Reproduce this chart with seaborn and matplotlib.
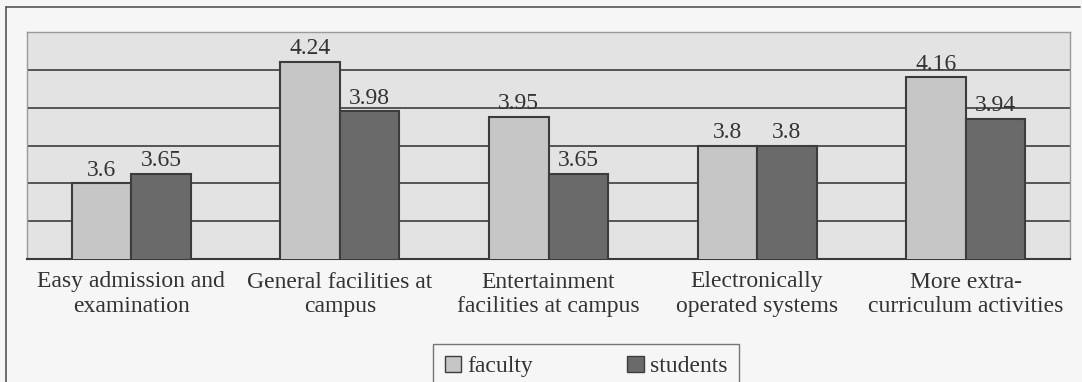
import matplotlib
matplotlib.use("Agg")
import matplotlib.pyplot as plt
import seaborn as sns
import pandas as pd
from matplotlib.lines import Line2D
from matplotlib.patches import Patch

categories = ["Easy admission and\nexamination",
              "General facilities at\ncampus",
              "Entertainment\nfacilities at campus",
              "Electronically\noperated systems",
              "More extra-\ncurriculum activities"]
series_names = ["faculty", "students"]
faculty = [3.6, 4.24, 3.95, 3.8, 4.16]
students = [3.65, 3.98, 3.65, 3.8, 3.94]
value_labels_faculty = ["3.6", "4.24", "3.95", "3.8", "4.16"]
value_labels_students = ["3.65", "3.98", "3.65", "3.8", "3.94"]

df = pd.DataFrame({
    "category": categories * 2,
    "group": [series_names[0]] * 5 + [series_names[1]] * 5,
    "value": faculty + students,
})

sns.set_style("white")
plt.rcParams["font.family"] = ["Liberation Serif", "DejaVu Serif"]

TEXT = "#333333"
fig = plt.figure(figsize=(10.82, 3.82), dpi=100, facecolor="#f6f6f6")
ax = fig.add_axes([27/1082, 1 - 259/382, (1070 - 27)/1082, (259 - 32)/382])
ax.set_facecolor("#e3e3e3")

colors = {"faculty": "#c6c6c6", "students": "#6a6a6a"}
sns.barplot(data=df, x="category", y="value", hue="group", order=categories,
            hue_order=series_names, palette=colors, width=0.57,
            edgecolor="#3c3c3c", linewidth=1.5, saturation=1, ax=ax,
            legend=False, zorder=3)

ax.set_ylim(3.2, 4.4)
ax.set_xlim(-0.5, 4.5)
ax.set_yticks([3.4, 3.6, 3.8, 4.0, 4.2])
ax.yaxis.grid(True, color="#4a4a4a", linewidth=1.3, zorder=0)
ax.set_axisbelow(True)
ax.tick_params(axis="y", left=False, labelleft=False)
ax.set_xlabel("")
ax.set_ylabel("")

ax.set_xticks(range(5))
ax.set_xticklabels(categories, fontsize=17, color=TEXT, linespacing=1.22)
ax.set_xticks([-0.5, 0.5, 1.5, 2.5, 3.5, 4.5], minor=True)
ax.tick_params(axis="x", which="major", length=0, pad=9)
ax.tick_params(axis="x", which="minor", length=6, width=1.2, color="#444444", direction="out")

for name, sp in ax.spines.items():
    sp.set_visible(True)
    if name == "bottom":
        sp.set_color("#3a3a3a")
        sp.set_linewidth(1.5)
    else:
        sp.set_color("#9a9a9a")
        sp.set_linewidth(1.0)

for cont, labs in zip(ax.containers, [value_labels_faculty, value_labels_students]):
    ax.bar_label(cont, labels=labs, padding=2, fontsize=17, color=TEXT)

handles = [Patch(facecolor=colors[n], edgecolor="#3c3c3c", linewidth=1.0) for n in series_names]
leg = fig.legend(handles, series_names, loc="upper center",
                 bbox_to_anchor=(586/1082, 1 - 344/382), ncol=2, frameon=True,
                 fontsize=17, handlelength=0.7, handleheight=0.7, handletextpad=0.25,
                 columnspacing=4.0, borderpad=0.5, borderaxespad=0, fancybox=False)
leg.get_frame().set_edgecolor("#555555")
leg.get_frame().set_linewidth(1.0)
leg.get_frame().set_facecolor("#f6f6f6")
for t in leg.get_texts():
    t.set_color(TEXT)

# figure border (left and top)
fig.add_artist(Line2D([6/1082, 6/1082], [0, 1 - 7/382], transform=fig.transFigure,
                      color="#555555", linewidth=1.2))
fig.add_artist(Line2D([6/1082, 1080/1082], [1 - 7/382, 1 - 7/382], transform=fig.transFigure,
                      color="#555555", linewidth=1.2))

fig.savefig("out.png", dpi=100, facecolor=fig.get_facecolor())
